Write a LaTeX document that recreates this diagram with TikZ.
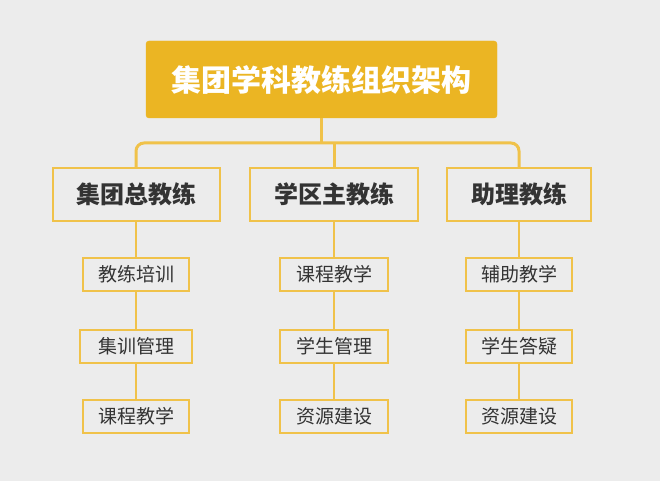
\documentclass[tikz,border=0pt]{standalone}
\usepackage{fontspec}
\newfontfamily\cjk{Noto Sans CJK SC}
\definecolor{bg}{HTML}{ECECEC}
\definecolor{gold}{HTML}{EBB523}
\definecolor{lgold}{HTML}{F0C24A}
\definecolor{txt}{HTML}{333333}
\tikzset{
 titlebox/.style={fill=gold,draw=gold,rounded corners=3pt,minimum width=351pt,minimum height=77pt,text=white,font=\cjk\bfseries\fontsize{30}{34}\selectfont},
 midbox/.style={fill=bg,draw=lgold,line width=2pt,minimum height=53pt,text=txt,font=\cjk\bfseries\fontsize{24}{28}\selectfont},
 leafbox/.style={fill=bg,draw=lgold,line width=1.5pt,minimum height=33pt,text=txt,font=\cjk\fontsize{19}{22}\selectfont},
 link/.style={draw=lgold,line width=3pt},
}
\begin{document}
\begin{tikzpicture}[x=1pt,y=-1pt]
\fill[bg] (0,0) rectangle (660,481);
\useasboundingbox (0,0) rectangle (660,481);
\node[titlebox] (t) at (321.5,79.5) {集团学科教练组织架构};
\node[midbox,minimum width=167pt] (a) at (136,194.5) {集团总教练};
\node[midbox,minimum width=168pt] (b) at (334,194.5) {学区主教练};
\node[midbox,minimum width=144pt] (c) at (519,194.5) {助理教练};
\node[leafbox,minimum width=106pt] (a1) at (136,274.5) {教练培训};
\node[leafbox,minimum width=112pt] (a2) at (136,346.5) {集训管理};
\node[leafbox,minimum width=106pt] (a3) at (136,416.5) {课程教学};
\node[leafbox,minimum width=108pt] (b1) at (334,274.5) {课程教学};
\node[leafbox,minimum width=108pt] (b2) at (334,346.5) {学生管理};
\node[leafbox,minimum width=108pt] (b3) at (334,416.5) {资源建设};
\node[leafbox,minimum width=106pt] (c1) at (519,274.5) {辅助教学};
\node[leafbox,minimum width=106pt] (c2) at (519,346.5) {学生答疑};
\node[leafbox,minimum width=106pt] (c3) at (519,416.5) {资源建设};
\coordinate (j) at (321.5,143);
\draw[link] (t.south) -- (j);
\draw[link,rounded corners=8pt] (a.north) -- (136,143) -- (519,143) -- (c.north);
\draw[link] (334,143) -- (b.north);
\draw[link,line width=2pt] (a.south) -- (a1.north) (a1.south) -- (a2.north) (a2.south) -- (a3.north);
\draw[link,line width=2pt] (b.south) -- (b1.north) (b1.south) -- (b2.north) (b2.south) -- (b3.north);
\draw[link,line width=2pt] (c.south) -- (c1.north) (c1.south) -- (c2.north) (c2.south) -- (c3.north);
\end{tikzpicture}
\end{document}
